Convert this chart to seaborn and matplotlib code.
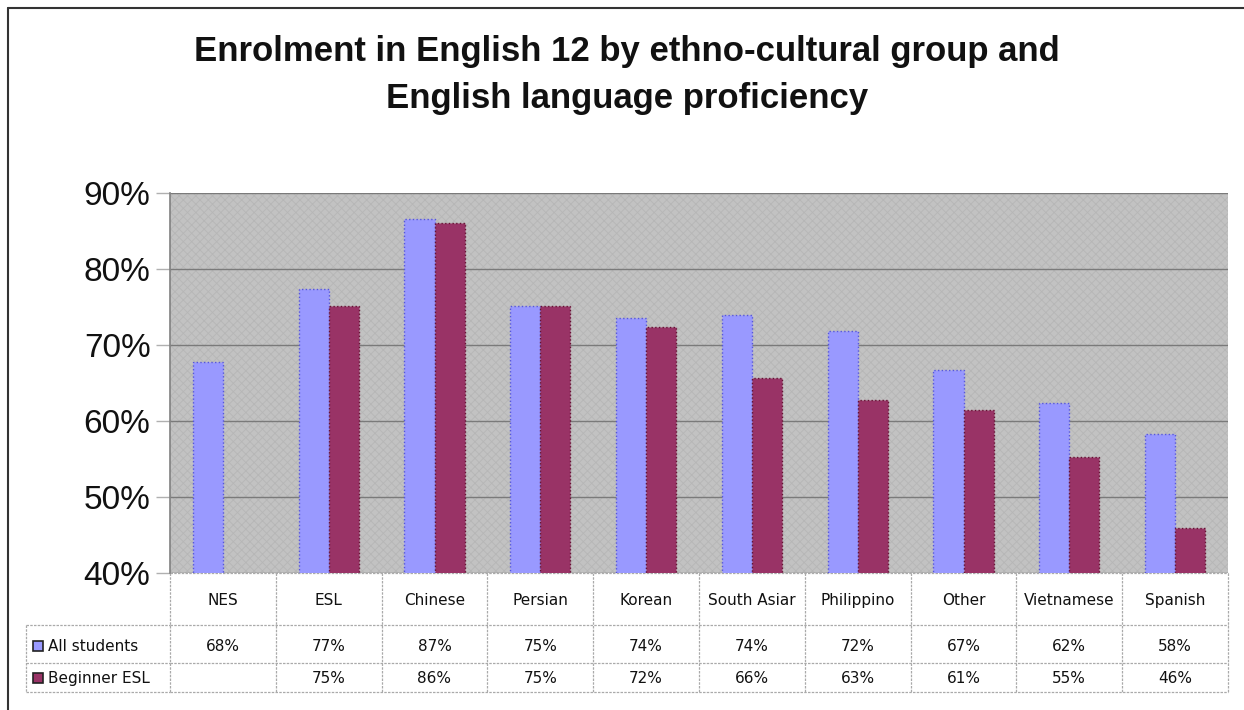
import matplotlib
matplotlib.use("Agg")
import matplotlib.pyplot as plt
import matplotlib.transforms as mtransforms
from matplotlib.patches import Rectangle
from matplotlib.lines import Line2D
import seaborn as sns
import pandas as pd
import numpy as np

categories = ["NES", "ESL", "Chinese", "Persian", "Korean", "South Asian",
              "Philippino", "Other", "Vietnamese", "Spanish"]
header_labels = ["NES", "ESL", "Chinese", "Persian", "Korean", "South Asiar",
                 "Philippino", "Other", "Vietnamese", "Spanish"]
all_students = [67.8, 77.4, 86.6, 75.1, 73.6, 73.9, 71.9, 66.7, 62.4, 58.3]
beginner_esl = [np.nan, 75.1, 86.1, 75.1, 72.4, 65.6, 62.7, 61.4, 55.2, 45.9]
series_names = ["All students", "Beginner ESL"]
y_ticks = [40, 50, 60, 70, 80, 90]

colors = ["#9999ff", "#993366"]
edge_colors = ["#5555dd", "#661133"]

sns.set_theme(style="white")
plt.rcParams["font.family"] = ["DejaVu Sans"]
plt.rcParams["hatch.linewidth"] = 0.6

df = pd.DataFrame({
    "category": categories * 2,
    "value": all_students + beginner_esl,
    "series": [series_names[0]] * len(categories) + [series_names[1]] * len(categories),
})

W, H = 1244, 710
fig = plt.figure(figsize=(W / 100, H / 100), dpi=100)
ax = fig.add_axes([170 / W, 1 - 573 / H, (1228 - 170) / W, (573 - 193) / H])

# plot background
ax.set_facecolor("#c2c2c2")
bg = Rectangle((0, 0), 1, 1, transform=ax.transAxes, facecolor="none",
               edgecolor="#b6b6b6", hatch="xxxx", linewidth=0, zorder=0)
ax.add_patch(bg)

sns.barplot(data=df, x="category", y="value", hue="series", order=categories,
            hue_order=series_names, palette=colors, width=0.57, gap=0,
            ax=ax, zorder=3, legend=False, saturation=1)

for i, cont in enumerate(ax.containers):
    for bar in cont:
        bar.set_edgecolor(edge_colors[i])
        bar.set_linestyle(":")
        bar.set_linewidth(1.0)

ax.set_ylim(40, 90)
ax.set_xlim(-0.5, len(categories) - 0.5)
ax.set_yticks(y_ticks)
ax.set_yticklabels([f"{t}%" for t in y_ticks], fontsize=24,
                   fontfamily="Liberation Sans", color="#111111")
ax.tick_params(axis="y", length=10, width=1, color="#b0b0b0", pad=4, left=True)
ax.tick_params(axis="x", bottom=False, labelbottom=False)
ax.yaxis.grid(True, color="#7a7a7a", linewidth=1, zorder=1)
ax.set_axisbelow(True)
ax.set_xlabel("")
ax.set_ylabel("")
for side in ["top", "right", "bottom"]:
    ax.spines[side].set_visible(False)
ax.spines["left"].set_color("#808080")
ax.spines["left"].set_linewidth(1.2)

# table below the plot
trans = mtransforms.blended_transform_factory(ax.transData, ax.transAxes)
ph = 573 - 193
def yfrac(py):
    return (573 - py) / ph

y_head_bot = yfrac(625)
y_r1_bot = yfrac(663)
y_r2_bot = yfrac(692)
tcol = "#aaaaaa"
lkw = dict(color=tcol, linestyle=(0, (2, 1)), linewidth=0.9, clip_on=False)

n = len(categories)
ax.plot([-0.5, n - 0.5], [0, 0], transform=trans, **lkw)
for yy in [y_head_bot, y_r1_bot, y_r2_bot]:
    ax.plot([-0.5, n - 0.5], [yy, yy], transform=trans, **lkw)
for b in range(n + 1):
    ax.plot([b - 0.5, b - 0.5], [0, y_r2_bot], transform=trans, **lkw)

fig_lines = [
    ([26, 170], [625, 625]), ([26, 170], [663, 663]), ([26, 170], [692, 692]),
    ([26, 26], [625, 692]),
]
for xs, ys in fig_lines:
    fig.add_artist(Line2D([x / W for x in xs], [1 - y / H for y in ys],
                          color=tcol, linestyle=(0, (2, 1)), linewidth=0.9))

tfs = 11
for i, lab in enumerate(header_labels):
    ax.text(i, yfrac(605), lab, transform=trans, ha="center", va="baseline",
            fontsize=tfs, color="#111111", clip_on=False)
    ax.text(i, yfrac(651), f"{all_students[i]:.0f}%", transform=trans,
            ha="center", va="baseline", fontsize=tfs, color="#111111")
    if not np.isnan(beginner_esl[i]):
        ax.text(i, yfrac(683), f"{beginner_esl[i]:.0f}%", transform=trans,
                ha="center", va="baseline", fontsize=tfs, color="#111111")

for j, (name, yc) in enumerate(zip(series_names, [651, 683])):
    fig.add_artist(Rectangle((33 / W, 1 - yc / H), 10 / W, 10 / H,
                             facecolor=colors[j], edgecolor="#222222",
                             linewidth=1.2))
    fig.text(48 / W, 1 - yc / H, name, ha="left", va="baseline", fontsize=tfs,
             color="#111111")

# title
tkw = dict(ha="center", va="baseline", fontsize=25, fontweight="bold",
           fontfamily="Liberation Sans", color="#111111")
fig.text(627 / W, 1 - 61 / H, "Enrolment in English 12 by ethno-cultural group and", **tkw)
fig.text(627 / W, 1 - 108 / H, "English language proficiency", **tkw)

# outer frame
fig.add_artist(Line2D([8 / W, 8 / W], [1 - 8 / H, 0], color="#333333", linewidth=1.5))
fig.add_artist(Line2D([8 / W, 1], [1 - 8 / H, 1 - 8 / H], color="#333333", linewidth=1.5))

fig.savefig("out.png", dpi=100)
